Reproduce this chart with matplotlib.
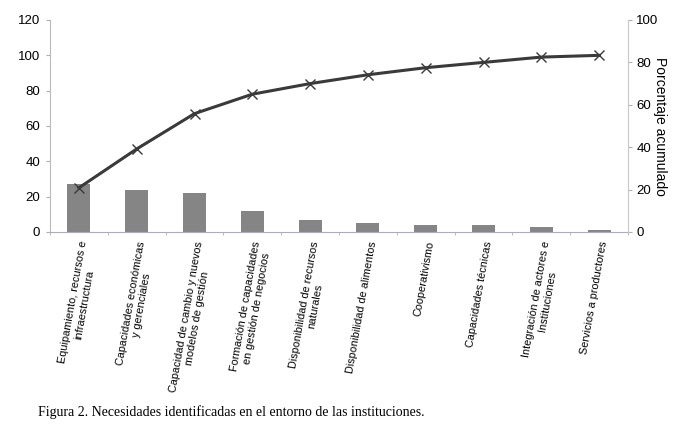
import numpy as np
import matplotlib
matplotlib.use("Agg")
import matplotlib.pyplot as plt

categories = [
    "Equipamiento, recursos e\ninfraestructura",
    "Capacidades económicas\ny gerenciales",
    "Capacidad de cambio y nuevos\nmodelos de gestión",
    "Formación de capacidades\nen gestión de negocios",
    "Disponibilidad de recursos\nnaturales",
    "Disponibilidad de alimentos",
    "Cooperativismo",
    "Capacidades técnicas",
    "Integración de actores e\nInstituciones",
    "Servicios a productores",
]
counts = [27, 24, 22, 12, 7, 5, 4, 4, 3, 1]
cum_pct = [25, 47, 67, 78, 84, 89, 93, 96, 99, 100]
left_ticks = [0, 20, 40, 60, 80, 100, 120]
right_ticks = [0, 20, 40, 60, 80, 100]

plt.rcParams['font.family'] = ['Liberation Sans', 'DejaVu Sans']

fig = plt.figure(figsize=(6.75, 4.28), dpi=100)
ax = fig.add_axes([50/675, 1 - 232/428, 578/675, 212/428])

x = np.arange(len(categories))
ax.bar(x, counts, width=0.4, color="#858585", zorder=2)
ax.plot(x, cum_pct, color="#3a3a3a", lw=2.2, marker="x", ms=7,
        mew=1.0, mec="#3a3a3a", zorder=3)

ax.set_xlim(-0.5, len(categories) - 0.5)
ax.set_ylim(0, 120)
ax.set_yticks(left_ticks)
ax.tick_params(axis="y", labelsize=9.5, length=3, color="#b0b0b0", pad=4)
ax.set_xticks(x)
ax.set_xticklabels(categories, rotation=80, ha="right", va="top",
                   rotation_mode="anchor", fontsize=7.8, multialignment="center")
ax.tick_params(axis="x", which="major", length=0, pad=6)
ax.set_xticks(np.arange(len(categories) + 1) - 0.5, minor=True)
ax.tick_params(axis="x", which="minor", length=2, color="#b0b0b0")

ax.spines["top"].set_visible(False)
ax.spines["left"].set_color("#b8b8c8")
ax.spines["bottom"].set_color("#b0a8c8")
ax.spines["right"].set_visible(False)

ax2 = ax.twinx()
ax2.set_ylim(0, 100)
ax2.set_yticks(right_ticks)
ax2.tick_params(axis="y", labelsize=9.5, length=3, color="#b0b0b0", pad=3)
for s in ["top", "left", "bottom"]:
    ax2.spines[s].set_visible(False)
ax2.spines["right"].set_color("#c8c8c8")
ax2.spines["right"].set_linestyle((0, (1, 1)))

fig.text(660/675, 1 - 126/428, "Porcentaje acumulado", rotation=-90,
         fontsize=10, ha="center", va="center")

fig.text(38/675, 1 - 412/428, "Figura 2. Necesidades identificadas en el entorno de las instituciones.",
         fontsize=10, family=["Liberation Serif", "DejaVu Serif"], va="center", ha="left")

fig.savefig("out.png", dpi=100)
